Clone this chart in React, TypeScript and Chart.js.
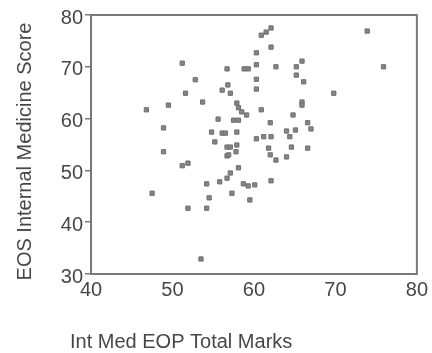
import React, { useEffect, useRef } from "react";
import { Chart, registerables } from "chart.js";

Chart.register(...registerables);

const xTitle = "Int Med EOP Total Marks";
const yTitle = "EOS Internal Medicine Score";
const xTicks = [40, 50, 60, 70, 80];
const yTicks = [30, 40, 50, 60, 70, 80];

const eopMarks = [
  51.2, 56.7, 58.8, 59.3, 52.8, 51.6, 56.1, 56.8, 53.7, 49.5,
  46.8, 57.1, 62.1, 61.5, 60.9, 62.1, 60.3, 65.9, 60.3, 62.7,
  65.2, 65.2, 66.1, 60.3, 60.3, 65.9, 65.9, 57.9, 60.9, 73.9,
  75.9, 69.8, 55.6, 48.9, 54.8, 56.1, 56.5, 55.2, 56.7, 48.9,
  56.7, 51.2, 51.9, 54.2, 55.8, 56.7, 58.1, 58.5, 59.1, 57.5,
  58.1, 62.0, 64.8, 66.6, 67.0, 57.9, 64.0, 65.1, 61.2, 60.3,
  62.1, 64.4, 57.1, 57.9, 57.8, 56.9, 61.8, 62.0, 64.6, 66.6,
  62.7, 64.0, 58.1, 57.1, 62.1, 58.7, 59.3, 60.1, 47.5, 54.5,
  57.3, 59.5, 51.9, 54.2, 53.5,
];

const eosScores = [
  70.7, 69.6, 69.6, 69.6, 67.5, 64.9, 65.5, 66.5, 63.2, 62.6,
  61.7, 64.9, 77.5, 76.7, 76.1, 73.8, 72.7, 71.1, 70.4, 70.0,
  70.0, 68.4, 67.1, 67.6, 65.7, 63.2, 62.6, 63.0, 61.7, 76.9,
  70.0, 64.9, 59.9, 58.2, 57.4, 57.2, 57.2, 55.5, 54.5, 53.6,
  52.8, 50.9, 51.4, 47.4, 47.8, 48.5, 62.1, 61.3, 60.7, 59.7,
  59.7, 59.2, 60.7, 59.2, 58.0, 57.4, 57.6, 57.8, 56.5, 56.1,
  56.5, 56.5, 54.5, 54.9, 53.6, 53.0, 54.3, 53.0, 54.5, 54.3,
  52.0, 52.6, 50.5, 49.5, 48.0, 47.4, 47.0, 47.2, 45.6, 44.7,
  45.6, 44.3, 42.7, 42.7, 32.9,
];

const FONT = "'Liberation Sans', Arial, sans-serif";
const TEXT = "#474747";

export default function App() {
  const ref = useRef<HTMLCanvasElement | null>(null);

  useEffect(() => {
    document.body.style.margin = "0";
    const canvas = ref.current;
    if (!canvas) return;

    const framePlugin = {
      id: "frameAndTitles",
      afterDraw(chart: any) {
        const { ctx, chartArea } = chart;
        ctx.save();
        ctx.strokeStyle = "#787878";
        ctx.lineWidth = 2;
        ctx.strokeRect(
          chartArea.left,
          chartArea.top,
          chartArea.right - chartArea.left,
          chartArea.bottom - chartArea.top
        );
        ctx.fillStyle = TEXT;
        ctx.font = `20px ${FONT}`;
        ctx.textAlign = "left";
        ctx.textBaseline = "alphabetic";
        ctx.fillText(xTitle, 70, 348);
        ctx.translate(25.5, 151.5);
        ctx.rotate(-Math.PI / 2);
        ctx.textAlign = "center";
        ctx.textBaseline = "middle";
        ctx.fillText(yTitle, 0, 0);
        ctx.restore();
      },
    };

    const chart = new Chart(canvas, {
      type: "scatter",
      data: {
        datasets: [
          {
            data: eopMarks.map((x, i) => ({ x, y: eosScores[i] })),
            pointStyle: "rect",
            pointRadius: 3,
            pointHoverRadius: 3,
            backgroundColor: "#858585",
            borderColor: "#6e6e6e",
            borderWidth: 1,
          },
        ],
      },
      options: {
        animation: false,
        responsive: false,
        maintainAspectRatio: false,
        layout: { padding: { left: 0, top: 15, right: 12, bottom: 0 } },
        plugins: {
          legend: { display: false },
          tooltip: { enabled: false },
          title: { display: false },
        },
        scales: {
          x: {
            type: "linear",
            min: 40,
            max: 80,
            afterBuildTicks: (scale: any) => {
              scale.ticks = xTicks.map((v) => ({ value: v }));
            },
            afterFit: (scale: any) => {
              scale.height = 79;
            },
            grid: { display: false, drawTicks: false },
            border: { display: false },
            ticks: {
              padding: 4,
              color: TEXT,
              font: { family: FONT, size: 20 },
              maxRotation: 0,
              autoSkip: false,
            },
          },
          y: {
            type: "linear",
            min: 30,
            max: 80,
            afterBuildTicks: (scale: any) => {
              scale.ticks = yTicks.map((v) => ({ value: v }));
            },
            afterFit: (scale: any) => {
              scale.width = 91;
            },
            grid: {
              display: true,
              drawOnChartArea: false,
              drawTicks: true,
              tickLength: 6,
              color: "#787878",
              lineWidth: 1.5,
            },
            border: { display: false },
            ticks: {
              padding: 2,
              labelOffset: 3,
              color: TEXT,
              font: { family: FONT, size: 20 },
              autoSkip: false,
            },
          },
        },
      },
      plugins: [framePlugin],
    });

    return () => chart.destroy();
  }, []);

  return (
    <div style={{ position: "absolute", left: 0, top: 0, width: 432, height: 353, background: "#fff" }}>
      <canvas ref={ref} width={432} height={353} style={{ width: 432, height: 353, display: "block" }} />
    </div>
  );
}
